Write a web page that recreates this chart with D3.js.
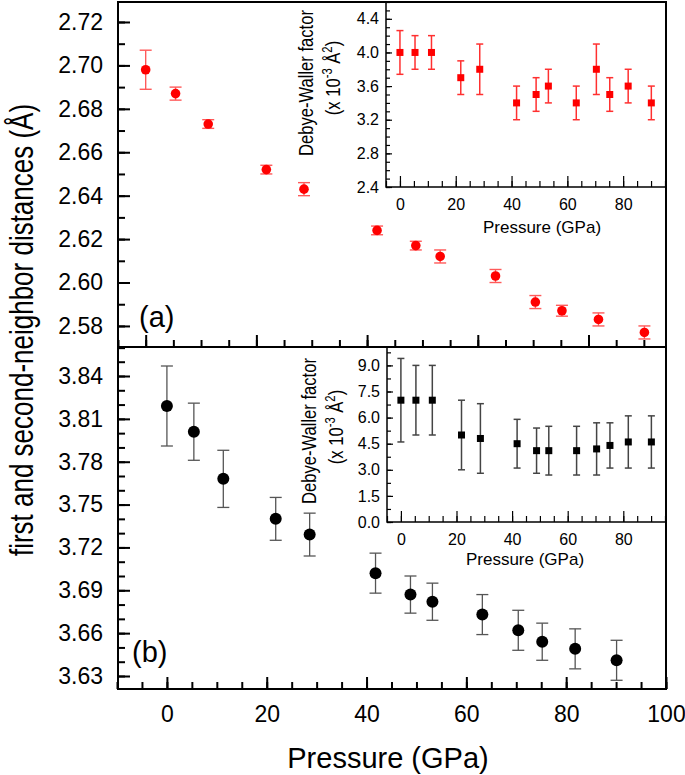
<!DOCTYPE html>
<html lang="en">
<head>
	<meta charset="UTF-8">
	<title>Neighbor distances vs pressure</title>
	<style>
		body { margin: 0; background: #fff; }
		svg { display: block; font-family: "Liberation Sans", Arial, sans-serif; }
		.axis path { display: none; }
		.axis line { stroke: #000; }
	</style>
</head>
<body>

	<script src="https://d3js.org/d3.v7.min.js"></script>

	<script type="text/javascript">

		// pressure points (GPa), shared by every series
		var pressure = [ 0, 5.4, 11.3, 21.8, 28.6, 41.8, 48.8, 53.2, 63.2, 70.4, 75.2, 81.8, 90.1 ];

		// (a) first-neighbor distance (A)
		var firstDist = [ 2.698, 2.687, 2.673, 2.652, 2.643, 2.624, 2.617, 2.612, 2.603, 2.591, 2.587, 2.583, 2.577 ];
		var firstErr  = [ 0.009, 0.003, 0.002, 0.002, 0.003, 0.002, 0.002, 0.003, 0.003, 0.003, 0.0025, 0.003, 0.003 ];

		// (b) second-neighbor distance (A)
		var secondDist = [ 3.819, 3.801, 3.768, 3.740, 3.729, 3.702, 3.687, 3.682, 3.673, 3.662, 3.654, 3.649, 3.641 ];
		var secondErr  = [ 0.028, 0.020, 0.020, 0.015, 0.015, 0.014, 0.013, 0.013, 0.014, 0.014, 0.013, 0.014, 0.014 ];

		// Debye-Waller factors (x 10^-3 A^2)
		var dwFirst     = [ 4.0, 4.0, 4.0, 3.7, 3.8, 3.4, 3.5, 3.6, 3.4, 3.8, 3.5, 3.6, 3.4 ];
		var dwFirstErr  = [ 0.26, 0.2, 0.2, 0.2, 0.3, 0.2, 0.2, 0.2, 0.2, 0.3, 0.2, 0.2, 0.2 ];
		var dwSecond    = [ 7.0, 7.0, 7.0, 5.0, 4.8, 4.5, 4.1, 4.1, 4.1, 4.2, 4.4, 4.6, 4.6 ];
		var dwSecondErr = [ 2.4, 2.0, 2.0, 2.0, 2.0, 1.4, 1.3, 1.4, 1.4, 1.5, 1.3, 1.5, 1.5 ];

		// tick labels
		var xTicksMain  = [ 0, 20, 40, 60, 80, 100 ];
		var xTicksTop   = [ 0, 20, 40, 60, 80 ];
		var yTicksA     = [ 2.58, 2.60, 2.62, 2.64, 2.66, 2.68, 2.70, 2.72 ];
		var yTicksB     = [ 3.63, 3.66, 3.69, 3.72, 3.75, 3.78, 3.81, 3.84 ];
		var insetXTicks = [ 0, 20, 40, 60, 80 ];
		var dwTicksA    = [ 2.4, 2.8, 3.2, 3.6, 4.0, 4.4 ];
		var dwTicksB    = [ 0.0, 1.5, 3.0, 4.5, 6.0, 7.5, 9.0 ];


		var width = 685,
			height = 775;

		var svg = d3.select( "body" ).append( "svg" )
			.attr( "width", width )
			.attr( "height", height );

		var left = 118, right = 666,
			topA = 2, midY = 347, bottomB = 689;

		var xA = d3.scaleLinear().domain( [ -5, 94 ] ).range( [ left, right ] ),
			yA = d3.scaleLinear().domain( [ 2.5703, 2.7292 ] ).range( [ midY, topA ] ),
			xB = d3.scaleLinear().domain( [ -10, 100 ] ).range( [ left - 1, right ] ),
			yB = d3.scaleLinear().domain( [ 3.6209, 3.8603 ] ).range( [ bottomB, midY ] );

		var xInA = d3.scaleLinear().domain( [ -5, 95 ] ).range( [ 386, 665 ] ),
			yInA = d3.scaleLinear().domain( [ 2.4, 4.6 ] ).range( [ 187, topA ] ),
			xInB = d3.scaleLinear().domain( [ -5, 95 ] ).range( [ 387, 665 ] ),
			yInB = d3.scaleLinear().domain( [ 0, 10 ] ).range( [ 522, 348 ] );


		function steps( from, to, step ) {
			var out = [], n = Math.round( ( to - from ) / step );
			for ( var i = 0; i <= n; i++ ) out.push( +( from + i * step ).toFixed( 4 ) );
			return out;
		}

		// ticks pointing inward, minor ticks shorter and without labels
		function addAxis( axisFn, scale, pos, major, minor, fmt, sizes, font, pad, strokeW ) {
			var g = svg.append( "g" ).attr( "class", "axis" );
			var isX = ( axisFn === d3.axisBottom );
			var tr = isX ? "translate(0," + pos + ")" : "translate(" + pos + ",0)";

			g.append( "g" ).attr( "transform", tr )
				.call( axisFn( scale ).tickValues( minor ).tickSize( -sizes[ 1 ] ).tickFormat( "" ) )
				.selectAll( "line" ).attr( "stroke-width", strokeW );

			var gm = g.append( "g" ).attr( "transform", tr )
				.call( axisFn( scale ).tickValues( major ).tickSize( -sizes[ 0 ] )
					.tickPadding( pad ).tickFormat( fmt ) );
			gm.selectAll( "line" ).attr( "stroke-width", strokeW );
			gm.selectAll( "text" )
				.attr( "fill", "#000" )
				.style( "font-size", font + "px" )
				.style( "font-family", "'Liberation Sans', Arial, sans-serif" );
			return g;
		}

		function errorBars( xs, ys, es, xScale, yScale, cap, color, w ) {
			var g = svg.append( "g" );
			var d = xs.map( function( p, i ) { return { x: p, y: ys[ i ], e: es[ i ] }; } );
			var bars = g.selectAll( "g" ).data( d ).enter().append( "g" )
				.attr( "stroke", color ).attr( "stroke-width", w );
			bars.append( "line" )
				.attr( "x1", function( d ) { return xScale( d.x ); } )
				.attr( "x2", function( d ) { return xScale( d.x ); } )
				.attr( "y1", function( d ) { return yScale( d.y + d.e ); } )
				.attr( "y2", function( d ) { return yScale( d.y - d.e ); } );
			[ 1, -1 ].forEach( function( s ) {
				bars.append( "line" )
					.attr( "x1", function( d ) { return xScale( d.x ) - cap; } )
					.attr( "x2", function( d ) { return xScale( d.x ) + cap; } )
					.attr( "y1", function( d ) { return yScale( d.y + s * d.e ); } )
					.attr( "y2", function( d ) { return yScale( d.y + s * d.e ); } );
			} );
			return d;
		}

		function rotText( x, y, k, size, parts ) {
			var t = svg.append( "text" )
				.attr( "transform", "translate(" + x + "," + y + ") rotate(-90) scale(1," + k + ")" )
				.attr( "text-anchor", "middle" )
				.style( "font-size", size + "px" );
			parts.forEach( function( p ) {
				var ts = t.append( "tspan" ).text( p[ 0 ] );
				if ( p[ 1 ] ) ts.attr( "baseline-shift", "super" ).style( "font-size", ( size * 0.68 ) + "px" );
			} );
			return t;
		}


		// ---- main frames
		svg.append( "rect" ).attr( "x", left ).attr( "y", topA )
			.attr( "width", right - left ).attr( "height", bottomB - topA )
			.attr( "fill", "none" ).attr( "stroke", "#000" ).attr( "stroke-width", 2 );
		svg.append( "line" ).attr( "x1", left ).attr( "x2", right )
			.attr( "y1", midY ).attr( "y2", midY )
			.attr( "stroke", "#000" ).attr( "stroke-width", 2 );

		var fmt2 = d3.format( ".2f" );

		addAxis( d3.axisLeft, yA, left, yTicksA, steps( 2.57, 2.72, 0.01 ), fmt2, [ 12, 7 ], 23, 15, 2 );
		addAxis( d3.axisLeft, yB, left, yTicksB, steps( 3.63, 3.86, 0.01 ), fmt2, [ 12, 7 ], 23, 15, 2 );
		addAxis( d3.axisBottom, xA, midY, xTicksTop, steps( -5, 90, 5 ), "", [ 12, 7 ], 23, 10, 2 );
		addAxis( d3.axisBottom, xB, bottomB, xTicksMain, steps( -10, 100, 5 ), d3.format( "d" ), [ 12, 7 ], 23, 17, 2 );

		// ---- main data
		var dA = errorBars( pressure, firstDist, firstErr, xA, yA, 6, "#ff5a5a", 1.4 );
		svg.append( "g" ).selectAll( "circle" ).data( dA ).enter().append( "circle" )
			.attr( "cx", function( d ) { return xA( d.x ); } )
			.attr( "cy", function( d ) { return yA( d.y ); } )
			.attr( "r", 4.8 ).attr( "fill", "#ff0000" );

		var dB = errorBars( pressure, secondDist, secondErr, xB, yB, 6, "#555", 1.3 );
		svg.append( "g" ).selectAll( "circle" ).data( dB ).enter().append( "circle" )
			.attr( "cx", function( d ) { return xB( d.x ); } )
			.attr( "cy", function( d ) { return yB( d.y ); } )
			.attr( "r", 6 ).attr( "fill", "#000" );

		svg.append( "text" ).attr( "x", 139 ).attr( "y", 327 ).style( "font-size", "29px" ).text( "(a)" );
		svg.append( "text" ).attr( "x", 132 ).attr( "y", 662 ).style( "font-size", "29px" ).text( "(b)" );

		// ---- insets
		function inset( xS, yS, major, minor, fmt, ys, es, color, barColor, titleX, titleY, dwX, dwY ) {
			var x0 = xS.range()[ 0 ], x1 = xS.range()[ 1 ],
				y0 = yS.range()[ 0 ], y1 = yS.range()[ 1 ];
			svg.append( "path" )
				.attr( "d", "M" + x0 + "," + y1 + "V" + y0 + "H" + x1 )
				.attr( "fill", "none" ).attr( "stroke", "#000" ).attr( "stroke-width", 1.5 );
			addAxis( d3.axisLeft, yS, x0, major, minor, fmt, [ 6, 4 ], 16, 7, 1.2 );
			addAxis( d3.axisBottom, xS, y0, insetXTicks, steps( -5, 95, 5 ), d3.format( "d" ), [ 11, 6 ], 16, 12, 1.2 );

			var d = errorBars( pressure, ys, es, xS, yS, 3.5, barColor, 1.5 );
			svg.append( "g" ).selectAll( "rect" ).data( d ).enter().append( "rect" )
				.attr( "x", function( d ) { return xS( d.x ) - 3.5; } )
				.attr( "y", function( d ) { return yS( d.y ) - 3.5; } )
				.attr( "width", 7 ).attr( "height", 7 ).attr( "fill", color );

			svg.append( "text" ).attr( "x", titleX ).attr( "y", titleY )
				.attr( "text-anchor", "middle" ).style( "font-size", "17px" )
				.text( "Pressure (GPa)" );

			rotText( dwX, dwY[ 0 ], 1.25, 16.6, [ [ "Debye-Waller factor" ] ] );
			rotText( dwX + 27, dwY[ 1 ], 1.25, 16.6,
				[ [ "(x 10" ], [ "-3", true ], [ " \u00c5" ], [ "2", true ], [ ")" ] ] );
		}

		inset( xInA, yInA, dwTicksA, steps( 2.4, 4.6, 0.1 ), d3.format( ".1f" ),
			dwFirst, dwFirstErr, "#ff0000", "#ff3030", 542, 233, 313, [ 83, 78 ] );
		inset( xInB, yInB, dwTicksB, steps( 0, 9.75, 0.75 ), d3.format( ".1f" ),
			dwSecond, dwSecondErr, "#000", "#444", 525, 565, 316, [ 431, 427 ] );

		// ---- axis titles
		svg.append( "text" ).attr( "x", 388 ).attr( "y", 768 )
			.attr( "text-anchor", "middle" ).style( "font-size", "29px" )
			.text( "Pressure (GPa)" );

		rotText( 33, 330, 1.3, 26, [ [ "first and second-neighbor distances (\u00c5)" ] ] );

	</script>
</body>
</html>
